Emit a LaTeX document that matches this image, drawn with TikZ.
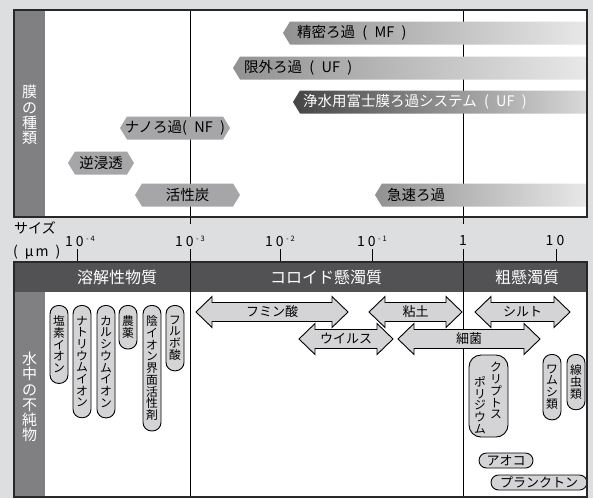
\documentclass[tikz,border=0pt]{standalone}
\usepackage{fontspec}
\setmainfont{Noto Sans CJK JP}
\definecolor{bggray}{RGB}{221,222,223}
\definecolor{colgray}{RGB}{128,128,131}
\definecolor{barblack}{RGB}{82,82,85}
\definecolor{framegray}{RGB}{40,40,40}
\definecolor{pillgray}{RGB}{212,212,214}
\definecolor{hexgray}{RGB}{166,166,168}

\begin{document}
\begin{tikzpicture}[x=1pt,y=-1pt,
	bartext/.style={font=\fontsize{14.5}{14.5}\selectfont, inner sep=0pt},
	coltext/.style={text=white, align=center, font=\fontsize{15}{15.3}\selectfont},
	headtext/.style={text=white, font=\fontsize{16}{16}\selectfont},
	ticktext/.style={font=\fontsize{14}{14}\selectfont},
	arrtext/.style={font=\fontsize{13}{13}\selectfont},
	vpill/.style={draw, line width=0.9pt, fill=pillgray, rounded corners=8.5pt,
		minimum width=18pt, text width=12pt, inner xsep=0pt, inner ysep=10.5pt,
		align=center, anchor=north, font=\fontsize{11.8}{11.7}\selectfont},
	hpill/.style={draw, line width=0.9pt, fill=pillgray, rounded corners=7.5pt,
		minimum height=15pt, inner sep=0pt, font=\fontsize{13}{13}\selectfont}]
	% Background
	\fill[bggray] (0,0) rectangle (593,498);
	\useasboundingbox (0,0) rectangle (593,498);
	% Upper panel
	\fill[white] (14,10) rectangle (587,217);
	\fill[colgray] (14,10) rectangle (45,217);
	\node[coltext] (membkind) at (29.5,115) {膜\\の\\種\\類};
	\foreach \x in {190,463} \draw[line width=0.8pt] (\x,10) -- (\x,224);
	% Bars open to the right
	\foreach \xa/\yc/\dx/\lc/\mc/\rc/\tc/\nm/\txt in {
		283/33/14/{black!43}/{black!30}/{black!9}/black/mf/{精密ろ過\enspace(\enspace MF\enspace)},
		233/68/11/{black!43}/{black!30}/{black!9}/black/uf/{限外ろ過\enspace(\enspace UF\enspace)},
		293/102/10/{black!73}/{black!66}/{black!15}/white/fuji/{浄水用富士膜ろ過システム\enspace(\enspace UF\enspace)},
		375/195/12/{black!43}/{black!30}/{black!9}/black/rapid/{急速ろ過}}{
		\shade[left color=\lc, middle color=\mc, right color=\rc]
			(\xa,\yc) -- (\xa+7,\yc-11.5) -- (587,\yc-11.5) -- (587,\yc+11.5) -- (\xa+7,\yc+11.5) -- cycle;
		\node[bartext, text=\tc, anchor=west] (\nm) at (\xa+\dx,\yc) {\txt};
	}
	% Closed bars
	\foreach \xa/\xb/\yc/\nm/\txt in {
		120/230/128/nf/{ナノろ過(\enspace NF\enspace)},
		68/134/163/ro/{逆浸透},
		135/240/195/ac/{活性炭}}{
		\fill[hexgray] (\xa,\yc) -- (\xa+7,\yc-11.5) -- (\xb-7,\yc-11.5) -- (\xb,\yc) -- (\xb-7,\yc+11.5) -- (\xa+7,\yc+11.5) -- cycle;
		\node[bartext] (\nm) at ({(\xa+\xb)/2},\yc) {\txt};
	}
	\draw[framegray, line width=2pt] (14,10) rectangle (587,217);
	% Size axis
	\node[ticktext, anchor=west, inner sep=0pt] (sizelbl) at (14,228) {サイズ};
	\node[ticktext, anchor=west, inner sep=0pt] (unitlbl) at (13,252) {(\enspace µ\kern2pt m\enspace)};
	\foreach \x/\nm/\ex in {80/em4/4, 190/em3/3, 280/em2/2, 372/em1/1}
		\node[ticktext] (\nm) at (\x,241) {1\kern3pt0\kern2.5pt\raisebox{5pt}{\fontsize{7.5}{7.5}\selectfont -\kern2pt\ex}};
	\node[ticktext] (one) at (463,241) {1};
	\node[ticktext] (ten) at (555,241) {1\kern3pt0};
	\foreach \x in {77,280,372,556} \draw[line width=0.8pt] (\x,249) -- (\x,262);
	% Lower panel
	\fill[white] (14,262) rectangle (587,497);
	\fill[barblack] (14,262) rectangle (587,292);
	\fill[colgray] (14,292) rectangle (45,497);
	\node[coltext] (impur) at (29.5,397) {水\\中\\の\\不\\純\\物};
	\foreach \x in {190,463} \draw[line width=0.8pt] (\x,249) -- (\x,497);
	\node[headtext] (dissolved) at (117,277) {溶解性物質};
	\node[headtext] (colloid) at (326,277) {コロイド懸濁質};
	\node[headtext] (coarse) at (527,277) {粗懸濁質};
	% Dissolved matter
	\foreach \x/\y/\nm/\txt in {
		59/305/chlor/{塩\\素\\イ\\オ\\ン},
		82/305/sodium/{ナ\\ト\\リ\\ウ\\ム\\イ\\オ\\ン},
		106/305/calcium/{カ\\ル\\シ\\ウ\\ム\\イ\\オ\\ン},
		128/305/pest/{農\\薬},
		152/305/surf/{陰\\イ\\オ\\ン\\界\\面\\活\\性\\剤},
		175/305/fulvic/{フ\\ル\\ボ\\酸},
		552/354/rotif/{ワ\\ム\\シ\\類},
		576/354/nemat/{線\\虫\\類}}
		\node[vpill] (\nm) at (\x,\y) {\txt};
	% Size ranges
	\foreach \xa/\xb/\yc/\nm/\txt in {
		196/348/312/humic/{フミン酸},
		369/462/312/clay/{粘土},
		475/570/312/silt/{シルト},
		299/393/339/virus/{ウイルス},
		398/540/339/bact/{細菌}}{
		\draw[line width=0.9pt, fill=pillgray] (\xa,\yc) -- (\xa+16,\yc-15.5) -- (\xa+16,\yc-9.5) -- (\xb-16,\yc-9.5)
			-- (\xb-16,\yc-15.5) -- (\xb,\yc) -- (\xb-16,\yc+15.5) -- (\xb-16,\yc+9.5) -- (\xa+16,\yc+9.5) -- (\xa+16,\yc+15.5) -- cycle;
		\node[arrtext] (\nm) at ({(\xa+\xb)/2},\yc) {\txt};
	}
	% Coarse matter
	\node[draw, line width=0.9pt, fill=pillgray, rounded corners=12pt, minimum width=39pt, minimum height=82pt] (crypto) at (488.5,396) {};
	\node[vpill, draw=none, fill=none, inner ysep=0pt] (crypto-a) at (496,362) {ク\\リ\\プ\\ト\\ス};
	\node[vpill, draw=none, fill=none, inner ysep=0pt] (crypto-b) at (480,376) {ポ\\リ\\ジ\\ウ\\ム};
	\node[hpill, minimum width=54pt] (aoko) at (506,460.5) {アオコ};
	\node[hpill, minimum width=96pt] (plank) at (539,482.5) {プランクトン};
	\draw[framegray, line width=2pt] (14,262) rectangle (587,497);
\end{tikzpicture}
\end{document}
